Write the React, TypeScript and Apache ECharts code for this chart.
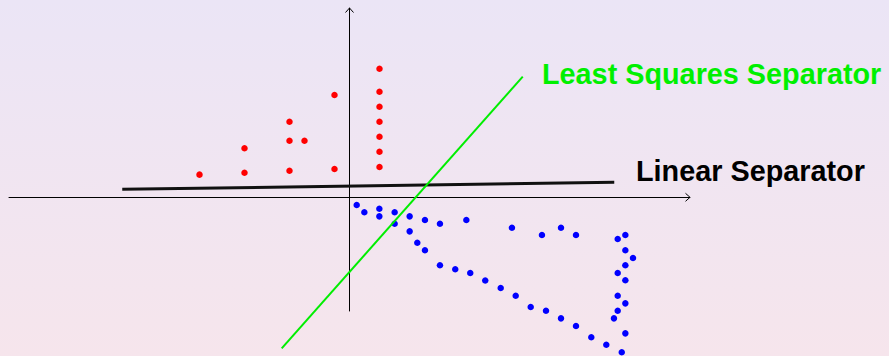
import React, { useEffect, useRef } from "react";
import * as echarts from "echarts";

// Axis extents (data units)
const X_MIN = -22.7;
const X_MAX = 22.7;
const Y_MIN = -7.58;
const Y_MAX = 12.62;

// Class +1 samples
const redPoints: [number, number][] = [
  [-10, 1.51], [-7, 1.64], [-7, 3.27], [-4, 1.77], [-4, 3.77], [-4, 5.04],
  [-3, 3.77], [-1, 1.89], [-1, 6.82], [2, 2.02], [2, 3.04], [2, 4.04],
  [2, 5.04], [2, 6.04], [2, 7.04], [2, 8.57],
];

// Class -1 samples
const bluePoints: [number, number][] = [
  [0.48, -0.51], [0.99, -1.0], [1.99, -0.76], [1.99, -1.27], [3.01, -1.0],
  [3.01, -1.76], [4.01, -1.27], [4.01, -2.27], [4.52, -3.03], [5.03, -3.53],
  [5.03, -1.51], [6.03, -1.76], [7.79, -1.51], [10.83, -2.03], [12.83, -2.51],
  [14.1, -2.03], [15.1, -2.51],
  [17.88, -2.78], [18.39, -2.51], [18.39, -3.53], [18.9, -4.05], [18.39, -4.53],
  [17.88, -5.05], [18.39, -5.53], [17.88, -6.56], [18.39, -7.07], [17.88, -7.56],
  [17.63, -8.07], [18.39, -9.07],
  [6.03, -4.53], [7.05, -4.8], [8.05, -5.05], [9.05, -5.55], [10.08, -6.05],
  [11.08, -6.56], [12.08, -7.31], [13.1, -7.56], [14.1, -8.07], [15.1, -8.58],
  [16.12, -9.33], [17.12, -9.83], [18.15, -10.33],
];

// Decision boundaries
const leastSquaresLine: [number, number][] = [[-4.52, -10.07], [11.55, 8.04]];
const linearLine: [number, number][] = [[-15.15, 0.53], [17.65, 1.0]];

// Arrow heads at the ends of the axes: [x, y, direction(0 = right, 1 = up)]
const axisArrows: [number, number, number][] = [[X_MAX, 0, 0], [0, Y_MAX, 1]];

const LABEL_FONT = "'Liberation Sans', Arial, Helvetica, sans-serif";

export default function App() {
  const ref = useRef<HTMLDivElement>(null);

  useEffect(() => {
    if (!ref.current) return;
    const chart = echarts.init(ref.current, null, { renderer: "svg" });

    const plainAxis = {
      type: "value" as const,
      axisLine: {
        show: true,
        onZero: true,
        lineStyle: { color: "#000", width: 1 },
      },
      axisTick: { show: false },
      axisLabel: { show: false },
      splitLine: { show: false },
    };

    chart.setOption({
      animation: false,
      backgroundColor: new echarts.graphic.LinearGradient(0, 0, 0, 1, [
        { offset: 0, color: "#ebe5f6" },
        { offset: 1, color: "#f6e5ec" },
      ]),
      grid: { left: 9, right: 199, top: 8, bottom: 45 },
      xAxis: { ...plainAxis, min: X_MIN, max: X_MAX },
      yAxis: { ...plainAxis, min: Y_MIN, max: Y_MAX },
      series: [
        {
          type: "custom",
          clip: false,
          silent: true,
          data: axisArrows,
          renderItem: (_params: any, api: any) => {
            const p = api.coord([api.value(0), api.value(1)]);
            const dir = api.value(2);
            const pts =
              dir === 0
                ? [[p[0] - 4.5, p[1] - 4], [p[0], p[1]], [p[0] - 4.5, p[1] + 4]]
                : [[p[0] - 4, p[1] + 4.5], [p[0], p[1]], [p[0] + 4, p[1] + 4.5]];
            return {
              type: "polyline",
              shape: { points: pts },
              style: { stroke: "#000", fill: "none", lineWidth: 1 },
            };
          },
        },
        {
          type: "scatter",
          clip: false,
          symbol: "circle",
          symbolSize: 6.5,
          itemStyle: { color: "#ff0000", opacity: 1 },
          data: redPoints,
        },
        {
          type: "scatter",
          clip: false,
          symbol: "circle",
          symbolSize: 6.5,
          itemStyle: { color: "#0000ff", opacity: 1 },
          data: bluePoints,
        },
        {
          type: "line",
          clip: false,
          symbol: "none",
          lineStyle: { color: "#111", width: 3 },
          data: linearLine,
        },
        {
          type: "line",
          clip: false,
          symbol: "none",
          lineStyle: { color: "#00ee00", width: 2 },
          data: leastSquaresLine,
        },
      ],
      graphic: [
        {
          type: "text",
          left: 542,
          top: 59,
          style: {
            text: "Least Squares Separator",
            fill: "#00f000",
            font: `bold 28.8px ${LABEL_FONT}`,
          },
        },
        {
          type: "text",
          left: 636,
          top: 156,
          style: {
            text: "Linear Separator",
            fill: "#000",
            font: `bold 28.8px ${LABEL_FONT}`,
          },
        },
      ],
    });

    return () => chart.dispose();
  }, []);

  return (
    <div
      ref={ref}
      style={{ position: "fixed", left: 0, top: 0, width: 889, height: 356 }}
    />
  );
}
